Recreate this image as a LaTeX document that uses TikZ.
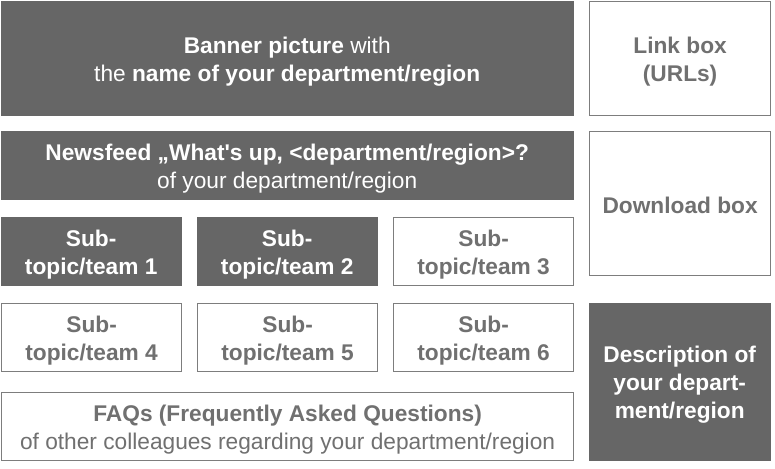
\documentclass[tikz,border=0pt]{standalone}
\usepackage{fontspec}
\setmainfont{Liberation Sans}[Ligatures=TeXOff]
\definecolor{boxgrey}{RGB}{102,102,102}
\definecolor{linegrey}{RGB}{125,125,125}
\definecolor{textgrey}{RGB}{112,112,112}
% a little extra room above the first line, so the text sits a bit lower
\newcommand{\topgap}[1][23pt]{\rule{0pt}{#1}}
\tikzset{
   darkbox/.style={fill=boxgrey, draw=boxgrey, text=white, anchor=north west,
      align=center, inner sep=0pt, font=\fontsize{22.7}{28}\selectfont},
   lightbox/.style={fill=white, draw=linegrey, line width=1.2pt, text=textgrey,
      anchor=north west, align=center, inner sep=0pt, font=\fontsize{22.7}{28}\selectfont},
}

\begin{document}
\begin{tikzpicture}[x=1pt, y=-1pt]
   \useasboundingbox (0,0) rectangle (775,468);
   % top row
   \node[darkbox, minimum width=572pt, minimum height=114pt] (banner) at (1,1)
      {\topgap\textbf{Banner picture} with\\the \textbf{name of your department/region}};
   \node[lightbox, minimum width=181pt, minimum height=114pt] (links) at (589,1)
      {\topgap\textbf{Link box}\\\textbf{(URLs)}};
   % newsfeed
   \node[darkbox, minimum width=572pt, minimum height=68pt] (news) at (1,131)
      {\topgap\textbf{Newsfeed „What's up, <department/region>?}\\of your department/region};
   \node[lightbox, minimum width=181pt, minimum height=144pt] (downloads) at (589,131)
      {\topgap[20pt]\textbf{Download box}};
   % sub-topics
   \node[darkbox, minimum width=180pt, minimum height=68pt] (team1) at (1,217)
      {\topgap\textbf{Sub-}\\\textbf{topic/team 1}};
   \node[darkbox, minimum width=180pt, minimum height=68pt] (team2) at (197,217)
      {\topgap\textbf{Sub-}\\\textbf{topic/team 2}};
   \node[lightbox, minimum width=180pt, minimum height=68pt] (team3) at (393,217)
      {\topgap\textbf{Sub-}\\\textbf{topic/team 3}};
   \node[lightbox, minimum width=180pt, minimum height=68pt] (team4) at (1,303)
      {\topgap\textbf{Sub-}\\\textbf{topic/team 4}};
   \node[lightbox, minimum width=180pt, minimum height=68pt] (team5) at (197,303)
      {\topgap\textbf{Sub-}\\\textbf{topic/team 5}};
   \node[lightbox, minimum width=180pt, minimum height=68pt] (team6) at (393,303)
      {\topgap\textbf{Sub-}\\\textbf{topic/team 6}};
   \node[darkbox, minimum width=181pt, minimum height=157pt] (descr) at (589,303)
      {\topgap\textbf{Description of}\\\textbf{your depart-}\\\textbf{ment/region}};
   % faqs
   \node[lightbox, minimum width=572pt, minimum height=68pt] (faqs) at (1,392)
      {\topgap\textbf{FAQs (Frequently Asked Questions)}\\of other colleagues regarding your department/region};
\end{tikzpicture}
\end{document}
